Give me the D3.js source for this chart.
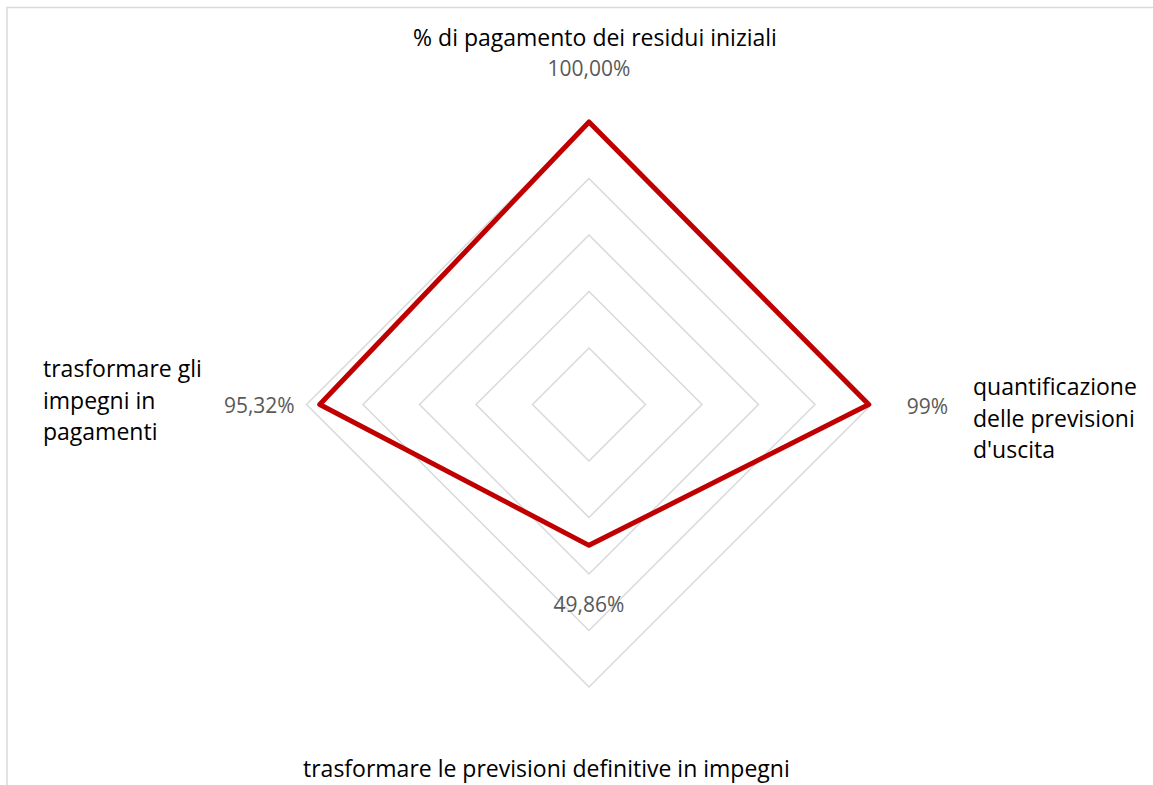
<!DOCTYPE html>
<html>
<head>
<meta charset="utf-8">
<script src="https://cdn.jsdelivr.net/npm/d3@7"></script>
<style>
  html, body { margin: 0; padding: 0; background: #fff; }
  svg { display: block; }
  text { font-family: "Open Sans", "Noto Sans", sans-serif; }
</style>
</head>
<body>
<script>
// categories, clockwise from the top
const categories = [
  ['% di pagamento dei residui iniziali'],
  ['quantificazione', 'delle previsioni', "d'uscita"],
  ['trasformare le previsioni definitive in impegni'],
  ['trasformare gli', 'impegni in', 'pagamenti']
];
const values = [1.0, 0.99, 0.4986, 0.9532];
const valueLabels = ['100,00%', '99%', '49,86%', '95,32%'];
const gridTicks = [0.2, 0.4, 0.6, 0.8, 1.0];

const W = 1153, H = 785;
const cx = 589, cy = 404.5, R = 282.5;

const svg = d3.select('body').append('svg')
  .attr('width', W).attr('height', H);

// chart frame (runs off the right and bottom of the picture)
svg.append('rect')
  .attr('x', 7).attr('y', 7.5)
  .attr('width', W + 20).attr('height', H + 20)
  .attr('fill', 'none').attr('stroke', '#d9d9d9').attr('stroke-width', 1.5);

const r = d3.scaleLinear().domain([0, 1]).range([0, R]);
const angle = d3.scaleLinear().domain([0, categories.length]).range([0, 2 * Math.PI]);

const radial = d3.lineRadial()
  .angle((d, i) => angle(i))
  .radius(d => r(d))
  .curve(d3.curveLinearClosed);

const g = svg.append('g').attr('transform', `translate(${cx},${cy})`);

// grid rings
g.selectAll('path.ring')
  .data(gridTicks)
  .join('path')
  .attr('class', 'ring')
  .attr('d', t => radial(categories.map(() => t)))
  .attr('fill', 'none')
  .attr('stroke', '#d9d9d9')
  .attr('stroke-width', 1.5);

// series
g.append('path')
  .attr('d', radial(values))
  .attr('fill', 'none')
  .attr('stroke', '#c00000')
  .attr('stroke-width', 5)
  .attr('stroke-linejoin', 'round');

// data labels
const valuePos = [
  { dx: 0, dy: -46.5, anchor: 'middle' },
  { dx: 38, dy: 9.5, anchor: 'start' },
  { dx: 0, dy: 66.5, anchor: 'middle' },
  { dx: -25, dy: 8.5, anchor: 'end' }
];
g.selectAll('text.val')
  .data(values)
  .join('text')
  .attr('class', 'val')
  .attr('x', (d, i) => r(d) * Math.sin(angle(i)) + valuePos[i].dx)
  .attr('y', (d, i) => -r(d) * Math.cos(angle(i)) + valuePos[i].dy)
  .attr('text-anchor', (d, i) => valuePos[i].anchor)
  .attr('fill', '#595959')
  .attr('font-size', 21)
  .text((d, i) => valueLabels[i]);

// category labels
const catPos = [
  { x: 595, y: 46, anchor: 'middle' },
  { x: 973, y: 395, anchor: 'start' },
  { x: 303, y: 777, anchor: 'start' },
  { x: 43, y: 377, anchor: 'start' }
];
const lineH = 31.5;
svg.selectAll('text.cat')
  .data(categories)
  .join('text')
  .attr('class', 'cat')
  .attr('x', (d, i) => catPos[i].x)
  .attr('y', (d, i) => catPos[i].y)
  .attr('text-anchor', (d, i) => catPos[i].anchor)
  .attr('fill', '#000')
  .attr('font-size', 23)
  .each(function (lines, i) {
    d3.select(this).selectAll('tspan')
      .data(lines)
      .join('tspan')
      .attr('x', catPos[i].x)
      .attr('dy', (l, j) => j === 0 ? 0 : lineH)
      .text(l => l);
  });
</script>
</body>
</html>
